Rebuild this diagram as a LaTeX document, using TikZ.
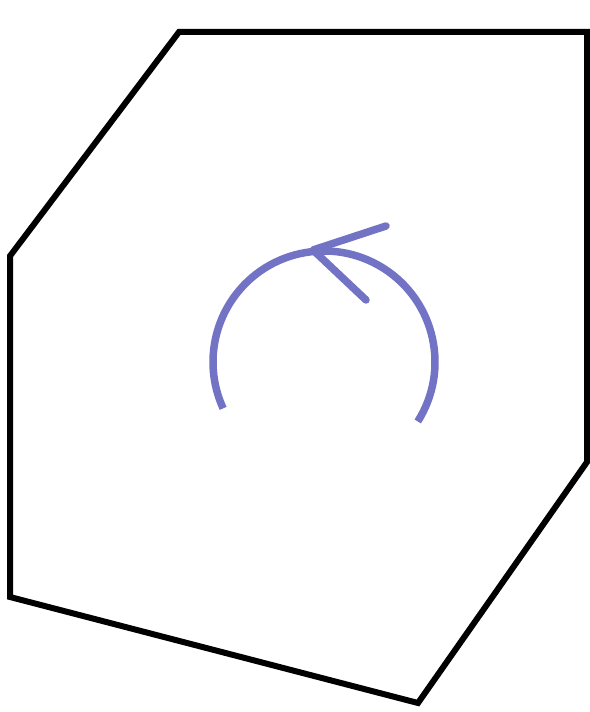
\documentclass[tikz,border=0pt]{standalone}
\usepackage{tikz}
\definecolor{arcblue}{RGB}{115,115,198}
\tikzset{
  frame/.style={draw=black, line width=6pt, line join=miter},
  turn/.style={draw=arcblue, line width=7.5pt},
  barb/.style={draw=arcblue, line width=7.5pt, line cap=round, line join=round}
}
\begin{document}
\begin{tikzpicture}[x=1pt,y=1pt]
\useasboundingbox (0,0) rectangle (589,712);
% polygon frame
\coordinate (p1) at (179,680);
\coordinate (p2) at (587,680);
\coordinate (p3) at (587,250);
\coordinate (p4) at (418,9);
\coordinate (p5) at (10,115);
\coordinate (p6) at (10,456);
\path[frame] (p1) -- (p2) -- (p3) -- (p4) -- (p5) -- (p6) -- cycle;
% arc
\coordinate (c) at (324,350);
\path[turn] ([shift={(-32.4:111)}]c) arc[start angle=-32.4, end angle=204.7, radius=111];
% arrowhead
\coordinate (tip) at (313,462);
\coordinate (b1) at (386,486);
\coordinate (b2) at (366,412);
\path[barb] (b1) -- (tip) -- (b2);
\end{tikzpicture}
\end{document}
